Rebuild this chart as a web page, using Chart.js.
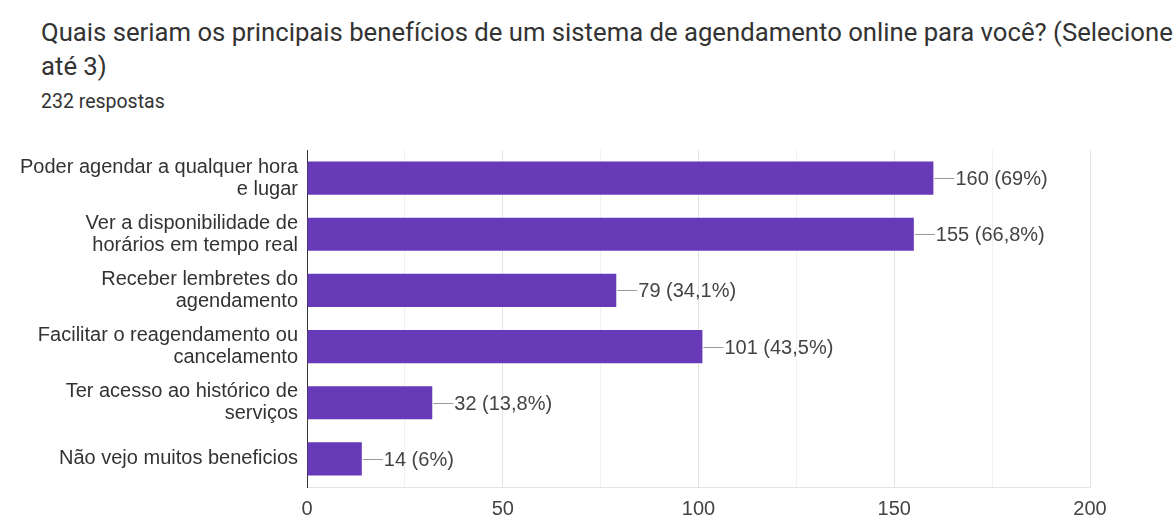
<!DOCTYPE html>
<html>
<head>
<meta charset="utf-8">
<script src="https://cdn.jsdelivr.net/npm/chart.js@4"></script>
<style>
  body { margin: 0; background: #fff; width: 1176px; height: 517px; overflow: hidden; position: relative; }
  #titulo { position: absolute; left: 41px; top: 15px; font-family: Roboto, sans-serif; font-size: 25.7px; color: #333; line-height: 34px; white-space: nowrap; }
  #respostas { position: absolute; left: 41px; top: 90px; font-family: Roboto, sans-serif; font-size: 19.5px; color: #333; }
  #box { position: absolute; left: 0; top: 140px; width: 1176px; height: 377px; }
</style>
</head>
<body>
<div id="titulo">Quais seriam os principais benefícios de um sistema de agendamento online para você? (Selecione<br>até 3)</div>
<div id="respostas">232 respostas</div>
<div id="box"><canvas id="grafico"></canvas></div>
<script>
var categorias = [
  ["Poder agendar a qualquer hora", "e lugar"],
  ["Ver a disponibilidade de", "horários em tempo real"],
  ["Receber lembretes do", "agendamento"],
  ["Facilitar o reagendamento ou", "cancelamento"],
  ["Ter acesso ao histórico de", "serviços"],
  "Não vejo muitos beneficios"
];
var respostas = [160, 155, 79, 101, 32, 14];
var percentuais = ["69%", "66,8%", "34,1%", "43,5%", "13,8%", "6%"];
var ticksX = [0, 50, 100, 150, 200];

var fonte = "'Liberation Sans', Arial, sans-serif";

// rotulos com tracinho ao lado de cada barra
var rotulosValor = {
  id: "rotulosValor",
  afterDatasetsDraw: function (chart) {
    var ctx = chart.ctx;
    var meta = chart.getDatasetMeta(0);
    ctx.save();
    ctx.font = "20px " + fonte;
    ctx.fillStyle = "#444";
    ctx.strokeStyle = "#999";
    ctx.lineWidth = 1;
    ctx.textBaseline = "middle";
    meta.data.forEach(function (bar, i) {
      var x = bar.x, y = Math.round(bar.y) + 0.5;
      ctx.beginPath();
      ctx.moveTo(x + 1, y);
      ctx.lineTo(x + 21, y);
      ctx.stroke();
      ctx.fillText(respostas[i] + " (" + percentuais[i] + ")", x + 22, y + 1);
    });
    ctx.restore();
  }
};

new Chart(document.getElementById("grafico"), {
  type: "bar",
  data: {
    labels: categorias,
    datasets: [{
      data: respostas,
      backgroundColor: "#673ab7",
      categoryPercentage: 0.59,
      barPercentage: 1
    }]
  },
  options: {
    indexAxis: "y",
    responsive: true,
    maintainAspectRatio: false,
    animation: false,
    layout: { padding: { top: 10, right: 86, left: 0, bottom: 0 } },
    plugins: { legend: { display: false }, tooltip: { enabled: false } },
    scales: {
      x: {
        min: 0,
        max: 200,
        afterFit: function (s) { s.height = 30; },
        ticks: {
          stepSize: 25,
          autoSkip: false,
          maxRotation: 0,
          color: "#444",
          padding: 10,
          font: { family: fonte, size: 20 },
          callback: function (v) { return ticksX.indexOf(v) >= 0 ? String(v) : ""; }
        },
        grid: {
          color: function (c) { return c.tick && c.tick.value % 50 === 0 ? "#e4e4e4" : "#f0f0f0"; },
          drawTicks: false
        },
        border: { color: "#e4e4e4" }
      },
      y: {
        afterFit: function (s) {
          s.width = 307;
          s.paddingTop = 0;
          s.paddingBottom = 0;
        },
        ticks: {
          color: "#333",
          padding: 9,
          font: { family: fonte, size: 20, lineHeight: 1.1 }
        },
        grid: { display: false, drawTicks: false },
        border: { color: "#333", width: 1 }
      }
    }
  },
  plugins: [rotulosValor]
});
</script>
</body>
</html>
